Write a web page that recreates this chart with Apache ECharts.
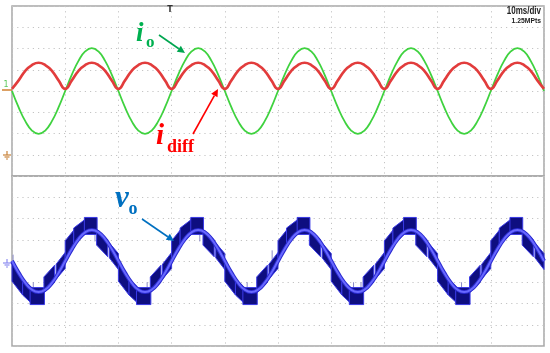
<!DOCTYPE html>
<html>
<head>
<meta charset="utf-8">
<script src="https://cdn.jsdelivr.net/npm/echarts@6/dist/echarts.min.js"></script>
<style>
html,body{margin:0;padding:0;background:#fff;}
#chart{width:550px;height:353px;}
</style>
</head>
<body>
<div id="chart"></div>
<script>
// time base (ms), 10 ms/div, 10 divisions
const timeMs = [0,1.25,2.5,3.75,5,6.25,7.5,8.75,10,11.25,12.5,13.75,15,16.25,17.5,18.75,
20,21.25,22.5,23.75,25,26.25,27.5,28.75,30,31.25,32.5,33.75,35,36.25,37.5,38.75,
40,41.25,42.5,43.75,45,46.25,47.5,48.75,50,51.25,52.5,53.75,55,56.25,57.5,58.75,
60,61.25,62.5,63.75,65,66.25,67.5,68.75,70,71.25,72.5,73.75,75,76.25,77.5,78.75,
80,81.25,82.5,83.75,85,86.25,87.5,88.75,90,91.25,92.5,93.75,95,96.25,97.5,98.75,100];

// i_o (divisions)
const ioValues = [
0,-0.77,-1.42,-1.86,-2.02,-1.86,-1.42,-0.77,0,0.77,1.42,1.86,2.02,1.86,1.42,0.77,
0,-0.77,-1.42,-1.86,-2.02,-1.86,-1.42,-0.77,0,0.77,1.42,1.86,2.02,1.86,1.42,0.77,
0,-0.77,-1.42,-1.86,-2.02,-1.86,-1.42,-0.77,0,0.77,1.42,1.86,2.02,1.86,1.42,0.77,
0,-0.77,-1.42,-1.86,-2.02,-1.86,-1.42,-0.77,0,0.77,1.42,1.86,2.02,1.86,1.42,0.77,
0,-0.77,-1.42,-1.86,-2.02,-1.86,-1.42,-0.77,0,0.77,1.42,1.86,2.02,1.86,1.42,0.77,
0];

// i_diff (divisions)
const idiffValues = [
0.1,0.5,0.95,1.22,1.33,1.22,0.95,0.5, 0.1,0.5,0.95,1.22,1.33,1.22,0.95,0.5,
0.1,0.5,0.95,1.22,1.33,1.22,0.95,0.5, 0.1,0.5,0.95,1.22,1.33,1.22,0.95,0.5,
0.1,0.5,0.95,1.22,1.33,1.22,0.95,0.5, 0.1,0.5,0.95,1.22,1.33,1.22,0.95,0.5,
0.1,0.5,0.95,1.22,1.33,1.22,0.95,0.5, 0.1,0.5,0.95,1.22,1.33,1.22,0.95,0.5,
0.1,0.5,0.95,1.22,1.33,1.22,0.95,0.5, 0.1,0.5,0.95,1.22,1.33,1.22,0.95,0.5,
0.1];

// v_o fundamental-looking trace (divisions)
const voValues = [
0,-0.56,-1.03,-1.35,-1.46,-1.35,-1.03,-0.56,0,0.56,1.03,1.35,1.46,1.35,1.03,0.56,
0,-0.56,-1.03,-1.35,-1.46,-1.35,-1.03,-0.56,0,0.56,1.03,1.35,1.46,1.35,1.03,0.56,
0,-0.56,-1.03,-1.35,-1.46,-1.35,-1.03,-0.56,0,0.56,1.03,1.35,1.46,1.35,1.03,0.56,
0,-0.56,-1.03,-1.35,-1.46,-1.35,-1.03,-0.56,0,0.56,1.03,1.35,1.46,1.35,1.03,0.56,
0,-0.56,-1.03,-1.35,-1.46,-1.35,-1.03,-0.56,0,0.56,1.03,1.35,1.46,1.35,1.03,0.56,
0];

// v_o switching bands: [tStart, tEnd, loStart, hiStart, loEnd, hiEnd]
const voBlocks = [
[0,2,-0.95,-0.1,-1.6,-0.8],[2,3.5,-1.6,-0.85,-1.95,-1.2],[3.4,6.1,-2.05,-1.25,-2.05,-1.25],[6,8,-1.5,-0.75,-1.0,-0.2],[8.3,10,-0.85,-0.15,-0.35,0.4],
[10,11.6,0.1,0.95,0.7,1.45],[11.6,13.7,0.75,1.55,1.25,1.95],[13.6,16,1.25,2.05,1.25,2.05],[15.9,18,0.75,1.5,0.2,1.0],[18.3,20,0.15,0.85,-0.4,0.35],
[20,22,-0.95,-0.1,-1.6,-0.8],[22,23.5,-1.6,-0.85,-1.95,-1.2],[23.4,26.1,-2.05,-1.25,-2.05,-1.25],[26,28,-1.5,-0.75,-1.0,-0.2],[28.3,30,-0.85,-0.15,-0.35,0.4],
[30,31.6,0.1,0.95,0.7,1.45],[31.6,33.7,0.75,1.55,1.25,1.95],[33.6,36,1.25,2.05,1.25,2.05],[35.9,38,0.75,1.5,0.2,1.0],[38.3,40,0.15,0.85,-0.4,0.35],
[40,42,-0.95,-0.1,-1.6,-0.8],[42,43.5,-1.6,-0.85,-1.95,-1.2],[43.4,46.1,-2.05,-1.25,-2.05,-1.25],[46,48,-1.5,-0.75,-1.0,-0.2],[48.3,50,-0.85,-0.15,-0.35,0.4],
[50,51.6,0.1,0.95,0.7,1.45],[51.6,53.7,0.75,1.55,1.25,1.95],[53.6,56,1.25,2.05,1.25,2.05],[55.9,58,0.75,1.5,0.2,1.0],[58.3,60,0.15,0.85,-0.4,0.35],
[60,62,-0.95,-0.1,-1.6,-0.8],[62,63.5,-1.6,-0.85,-1.95,-1.2],[63.4,66.1,-2.05,-1.25,-2.05,-1.25],[66,68,-1.5,-0.75,-1.0,-0.2],[68.3,70,-0.85,-0.15,-0.35,0.4],
[70,71.6,0.1,0.95,0.7,1.45],[71.6,73.7,0.75,1.55,1.25,1.95],[73.6,76,1.25,2.05,1.25,2.05],[75.9,78,0.75,1.5,0.2,1.0],[78.3,80,0.15,0.85,-0.4,0.35],
[80,82,-0.95,-0.1,-1.6,-0.8],[82,83.5,-1.6,-0.85,-1.95,-1.2],[83.4,86.1,-2.05,-1.25,-2.05,-1.25],[86,88,-1.5,-0.75,-1.0,-0.2],[88.3,90,-0.85,-0.15,-0.35,0.4],
[90,91.6,0.1,0.95,0.7,1.45],[91.6,93.7,0.75,1.55,1.25,1.95],[93.6,96,1.25,2.05,1.25,2.05],[95.9,98,0.75,1.5,0.2,1.0],[98.3,100,0.15,0.85,-0.4,0.35]
];

// thin spikes on v_o
const spikeT  = [0.2, 4.0, 15.6, 25.4, 35.3, 44.2, 48.9, 56.0, 64.2, 65.6, 76.0, 84.5, 89.5, 96.0];
const spikeLo = [-0.4,-1.5, 0.92,-1.5, 0.92,-1.5, 0.05, 0.92,-1.5,-1.45, 0.92,-1.5,-0.4, 0.92];
const spikeHi = [0.3,-1.0, 1.38,-1.0, 1.38,-1.0, 0.5, 1.38,-1.0,-1.0, 1.38,-1.0,-0.1, 1.38];

const zip = (xs, ys) => xs.map((x, i) => [x, ys[i]]);

const gridLine = {show:true, lineStyle:{color:'#c4c4c4', width:1, type:[1.2,4]}};
function xAx(g){return {gridIndex:g,type:'value',min:0,max:100,interval:10,axisLine:{show:false},axisTick:{show:false},axisLabel:{show:false},splitLine:gridLine};}
function yAx(g){return {gridIndex:g,type:'value',min:-4,max:4,interval:1,axisLine:{show:false},axisTick:{show:false},axisLabel:{show:false},splitLine:gridLine};}

function arrow(x1,y1,x2,y2,color){
  const dx=x2-x1, dy=y2-y1, L=Math.hypot(dx,dy), ux=dx/L, uy=dy/L;
  const hl=7.5, hw=3.6, bx=x2-ux*hl, by=y2-uy*hl;
  return [
    {type:'line',shape:{x1:x1,y1:y1,x2:bx,y2:by},style:{stroke:color,lineWidth:1.6},z:100},
    {type:'polygon',shape:{points:[[x2,y2],[bx-uy*hw,by+ux*hw],[bx+uy*hw,by-ux*hw]]},style:{fill:color},z:100}
  ];
}
function txt(x,y,t,size,color,italic,align){
  return {type:'text',x:x,y:y,z:101,style:{text:t,fontFamily:'"Liberation Serif", serif',fontSize:size,fontWeight:'bold',fontStyle:italic?'italic':'normal',fill:color,align:align||'left',verticalAlign:'middle'}};
}

const chart = echarts.init(document.getElementById('chart'), null, {renderer:'canvas'});
const option = {
  animation:false,
  backgroundColor:'#ffffff',
  grid:[
    {left:12,top:6,width:532,height:170,show:true,borderColor:'#a8a8a8',borderWidth:1.5,backgroundColor:'transparent'},
    {left:12,top:176,width:532,height:170,show:true,borderColor:'#a8a8a8',borderWidth:1.5,backgroundColor:'transparent'}
  ],
  xAxis:[xAx(0),xAx(1)],
  yAxis:[yAx(0),yAx(1)],
  series:[
    {type:'line',xAxisIndex:0,yAxisIndex:0,data:zip(timeMs,ioValues),smooth:0.5,showSymbol:false,
     lineStyle:{color:'#3fd23f',width:1.8},z:3},
    {type:'line',xAxisIndex:0,yAxisIndex:0,data:zip(timeMs,idiffValues),smooth:0.5,showSymbol:false,
     lineStyle:{color:'#e23c3c',width:2.6},z:4},
    {type:'custom',xAxisIndex:1,yAxisIndex:1,data:voBlocks,encode:{x:[0,1],y:[2,3,4,5]},z:3,
     renderItem:function(params,api){
       const a=api.coord([api.value(0),api.value(2)]);
       const b=api.coord([api.value(0),api.value(3)]);
       const c=api.coord([api.value(1),api.value(5)]);
       const d=api.coord([api.value(1),api.value(4)]);
       return {type:'polygon',shape:{points:[a,b,c,d]},style:{fill:'#0e0e80',stroke:'#3a3ae6',lineWidth:1}};
     }},
    {type:'custom',xAxisIndex:1,yAxisIndex:1,data:zip(spikeT,spikeLo).map((p,i)=>[p[0],p[1],spikeHi[i]]),encode:{x:0,y:[1,2]},z:2,
     renderItem:function(params,api){
       const a=api.coord([api.value(0),api.value(1)]);
       const b=api.coord([api.value(0),api.value(2)]);
       return {type:'line',shape:{x1:a[0],y1:a[1],x2:b[0],y2:b[1]},style:{stroke:'#8a8ac8',lineWidth:1}};
     }},
    {type:'line',xAxisIndex:1,yAxisIndex:1,data:zip(timeMs,voValues),smooth:0.5,showSymbol:false,
     lineStyle:{color:'#2a2ad0',width:4},z:4},
    {type:'line',xAxisIndex:1,yAxisIndex:1,data:zip(timeMs,voValues),smooth:0.5,showSymbol:false,
     lineStyle:{color:'#6868ff',width:2},z:5}
  ],
  graphic:[
    // scope readouts
    {type:'text',x:541,y:11,scaleX:0.8,z:101,style:{text:'10ms/div',fontFamily:'"Liberation Sans", sans-serif',fontSize:10,fontWeight:'bold',fill:'#222',align:'right',verticalAlign:'middle'}},
    {type:'text',x:541,y:21,scaleX:0.85,z:101,style:{text:'1.25MPts',fontFamily:'"Liberation Sans", sans-serif',fontSize:8,fontWeight:'bold',fill:'#222',align:'right',verticalAlign:'middle'}},
    // trigger marker
    {type:'text',x:170,y:10,z:101,style:{text:'T',fontFamily:'"DejaVu Sans", sans-serif',fontSize:8,fontWeight:'bold',fill:'#333',align:'center',verticalAlign:'middle'}},
    // channel markers
    {type:'text',x:6,y:85,z:101,style:{text:'1',fontFamily:'"DejaVu Sans", sans-serif',fontSize:8,fill:'#5ac85a',align:'center',verticalAlign:'middle'}},
    {type:'line',shape:{x1:2,y1:90,x2:12,y2:90},style:{stroke:'#d08030',lineWidth:1.5},z:101},
    {type:'line',shape:{x1:7,y1:151,x2:7,y2:155},style:{stroke:'#c8823a',lineWidth:1.2},z:101},
    {type:'line',shape:{x1:3,y1:155,x2:11,y2:155},style:{stroke:'#c8823a',lineWidth:1.2},z:101},
    {type:'line',shape:{x1:4.5,y1:157,x2:9.5,y2:157},style:{stroke:'#c8823a',lineWidth:1.2},z:101},
    {type:'line',shape:{x1:6,y1:159,x2:8,y2:159},style:{stroke:'#c8823a',lineWidth:1.2},z:101},
    {type:'line',shape:{x1:7,y1:259,x2:7,y2:263},style:{stroke:'#8c8cf0',lineWidth:1.2},z:101},
    {type:'line',shape:{x1:3,y1:263,x2:11,y2:263},style:{stroke:'#8c8cf0',lineWidth:1.2},z:101},
    {type:'line',shape:{x1:4.5,y1:265,x2:9.5,y2:265},style:{stroke:'#8c8cf0',lineWidth:1.2},z:101},
    {type:'line',shape:{x1:6,y1:267,x2:8,y2:267},style:{stroke:'#8c8cf0',lineWidth:1.2},z:101},
    // annotations
    txt(136,34,'i',27,'#00b050',true),
    txt(146,43,'o',17,'#00b050',false),
    ...arrow(159,35,185,53,'#00a650'),
    txt(156,137,'i',29,'#ff0000',true),
    txt(167,147,'diff',18,'#ff0000',false),
    ...arrow(193,134,218,89,'#ff0000'),
    txt(115,199,'v',31,'#0070c0',true),
    txt(128.5,209,'o',18,'#0070c0',false),
    ...arrow(142,219,174,241,'#0070c0')
  ]
};
chart.setOption(option);
</script>
</body>
</html>
